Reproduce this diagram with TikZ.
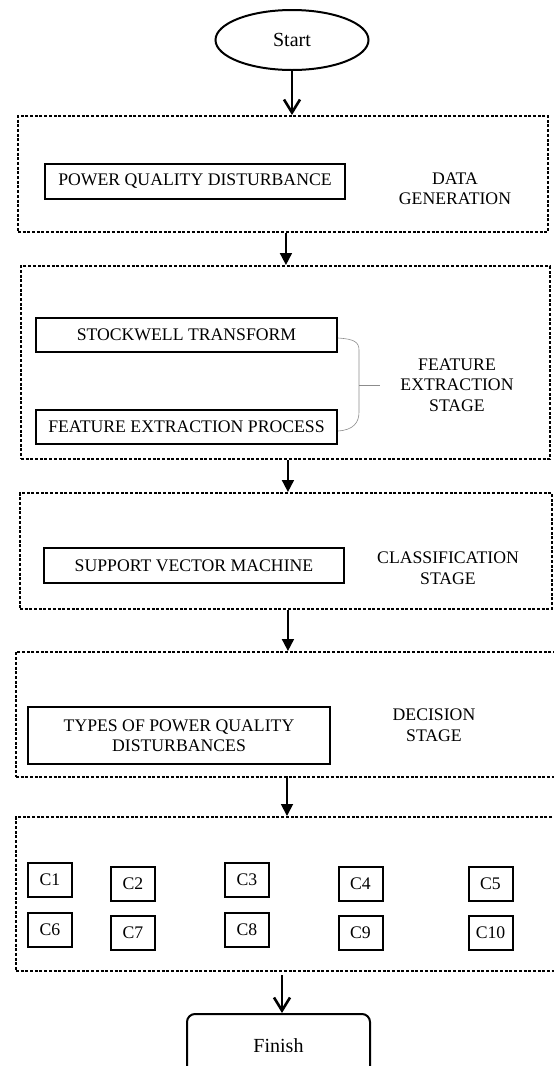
\documentclass[tikz,border=0pt]{standalone}
\usepackage{fontspec}
\setmainfont{Liberation Serif}
\usetikzlibrary{arrows.meta,positioning,shapes.geometric}
\tikzset{
  stagebox/.style={
    draw=black,
    line width=1.9pt,
    dash pattern=on 3pt off 1.7pt,
    inner sep=0pt,
    anchor=north west
  },
  procbox/.style={
    draw=black,
    line width=2pt,
    align=center,
    inner sep=0pt,
    font=\fontsize{17.7}{20.5}\selectfont
  },
  classbox/.style={
    draw=black,
    line width=2pt,
    inner sep=0pt,
    minimum width=44pt,
    minimum height=34pt,
    font=\fontsize{17.7}{20.5}\selectfont
  },
  termbox/.style={
    draw=black,
    line width=2pt,
    inner sep=0pt,
    font=\fontsize{20}{24}\selectfont
  },
  stagelabel/.style={
    align=center,
    inner sep=0pt,
    font=\fontsize{17.7}{20.5}\selectfont
  },
  flowarrow/.style={
    -{Triangle[length=12pt,width=12pt]},
    line width=1.8pt
  },
  openarrow/.style={
    -{Straight Barb[length=13pt,width=16pt,line width=2.6pt]},
    line width=2.6pt
  },
  bracketline/.style={
    draw=black!45,
    line width=0.6pt
  }
}

\begin{document}
\begin{tikzpicture}[x=1pt,y=-1pt]
  \useasboundingbox (0,0) rectangle (554,1066);
  \clip (0,0) rectangle (554,1066);

  \node[termbox, ellipse, minimum width=153pt, minimum height=60pt] (start) at (292,40) {Start};

  % stage containers
  \node[stagebox, minimum width=530pt, minimum height=116pt] (gen) at (17,115) {};
  \node[stagebox, minimum width=529pt, minimum height=193pt] (feat) at (20,265) {};
  \node[stagebox, minimum width=532pt, minimum height=116pt] (clas) at (19,492) {};
  \node[stagebox, minimum width=560pt, minimum height=125pt] (dec) at (15,651) {};
  \node[stagebox, minimum width=560pt, minimum height=154pt] (out) at (15,816) {};

  \node[procbox, minimum width=300pt, minimum height=35pt] (pqd) at (195,181.5) {POWER QUALITY DISTURBANCE};
  \node[stagelabel] (genlbl) at (455,188.5) {DATA\\GENERATION};

  \node[procbox, minimum width=301pt, minimum height=34pt] (stock) at (186.5,335) {STOCKWELL TRANSFORM};
  \node[procbox, minimum width=301pt, minimum height=34pt] (fep) at (186.5,427) {FEATURE EXTRACTION PROCESS};
  \node[stagelabel] (featlbl) at (457,385) {FEATURE\\EXTRACTION\\STAGE};

  \node[procbox, minimum width=300pt, minimum height=35pt] (svm) at (194,565.5) {SUPPORT VECTOR MACHINE};
  \node[stagelabel] (claslbl) at (448,568) {CLASSIFICATION\\STAGE};

  \node[procbox, minimum width=302pt, minimum height=57pt] (types) at (179,735.5) {TYPES OF POWER QUALITY\\DISTURBANCES};
  \node[stagelabel] (declbl) at (434,725) {DECISION\\STAGE};

  % classes
  \node[classbox] (c1) at (50,880) {C1};
  \node[classbox] (c2) at (133,883.5) {C2};
  \node[classbox] (c3) at (247,880) {C3};
  \node[classbox] (c4) at (360.5,883.5) {C4};
  \node[classbox] (c5) at (490.5,883.5) {C5};
  \node[classbox] (c6) at (50,929.5) {C6};
  \node[classbox] (c7) at (133,932.5) {C7};
  \node[classbox] (c8) at (247,929.5) {C8};
  \node[classbox] (c9) at (360.5,932.5) {C9};
  \node[classbox] (c10) at (490.5,932.5) {C10};

  \node[termbox, rounded corners=8pt, anchor=north, minimum width=183pt,
        inner ysep=25pt, text height=13pt, text depth=40pt] (finish) at (278.5,1013) {Finish};

  % brace joining the two feature steps
  \coordinate (bracetip) at (380,385);
  \draw[bracketline] ([yshift=-3pt]stock.east) .. controls (354,339) and (359,342) .. (359,350)
    -- (359,412) .. controls (359,423) and (353,430) .. ([yshift=-4pt]fep.east);
  \draw[bracketline] (359,385) -- (bracetip);

  \draw[openarrow] (start.south) -- (start.south |- gen.north);
  \draw[flowarrow] ([xshift=3pt]gen.south) -- ([xshift=3pt]gen.south |- feat.north);
  \draw[flowarrow] ([xshift=2.5pt]feat.south) -- ([xshift=2.5pt]feat.south |- clas.north);
  \draw[flowarrow] ([xshift=2pt]clas.south) -- ([xshift=2pt]clas.south |- dec.north);
  \draw[flowarrow] (287,776) -- (287,776 |- out.north);
  \draw[openarrow, shorten <=5pt] (282,970) -- (282,970 |- finish.north);
\end{tikzpicture}
\end{document}
